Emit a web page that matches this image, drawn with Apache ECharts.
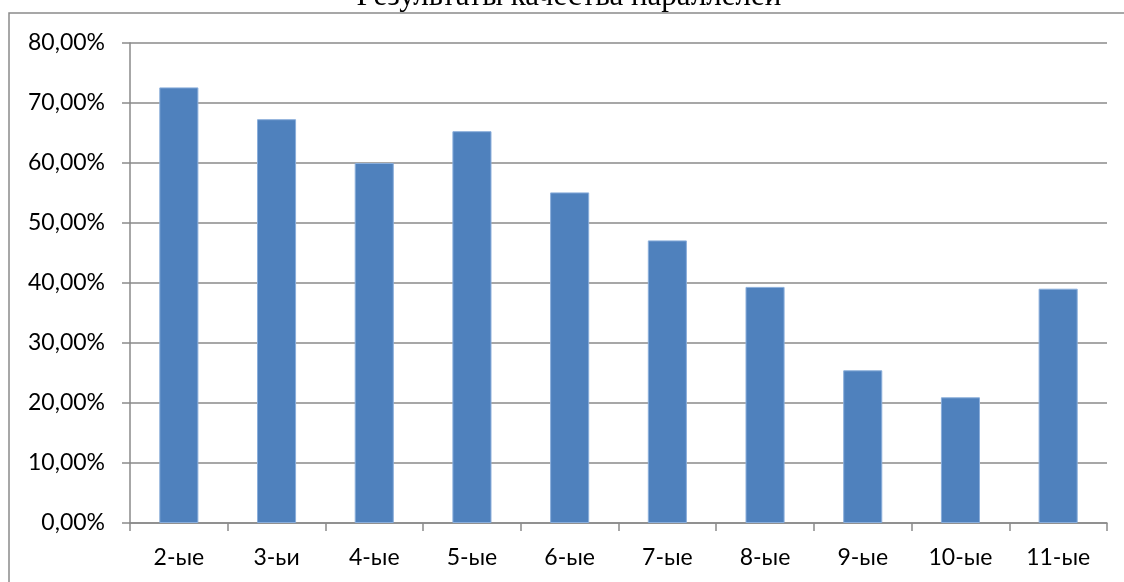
<!DOCTYPE html>
<html>
<head>
<meta charset="utf-8">
<script src="https://cdn.jsdelivr.net/npm/echarts@6/dist/echarts.min.js"></script>
<style>
html,body{margin:0;padding:0;background:#fff;}
#chart{width:1124px;height:582px;}
</style>
</head>
<body>
<div id="chart"></div>
<script>
const titleText = 'Результаты качества параллелей';
const categories = ['2-ые','3-ьи','4-ые','5-ые','6-ые','7-ые','8-ые','9-ые','10-ые','11-ые'];
const values = [72.6, 67.3, 60.0, 65.3, 55.1, 47.1, 39.35, 25.45, 20.95, 39.05];
const yTicks = {min: 0, max: 80, interval: 10};

const chart = echarts.init(document.getElementById('chart'), null, {renderer: 'canvas'});
const lineColor = '#8a8a8a';
const labelFont = {fontFamily: 'Lato', fontSize: 23, color: '#000'};

chart.setOption({
  animation: false,
  backgroundColor: '#fff',
  graphic: [{
    type: 'text',
    x: 569,
    y: -3,
    style: {
      text: titleText,
      font: 'normal 31px "Liberation Serif"',
      fill: '#000',
      textAlign: 'center',
      textVerticalAlign: 'middle'
    },
    silent: true,
    z: 1
  }, {
    type: 'rect',
    shape: {x: 9, y: 13, width: 1300, height: 800},
    style: {fill: 'none', stroke: lineColor, lineWidth: 1.5},
    silent: true,
    z: 2
  }],
  grid: {left: 130, right: 17, top: 43, bottom: 59, containLabel: false},
  xAxis: {
    type: 'category',
    data: categories,
    axisLine: {show: true, lineStyle: {color: lineColor, width: 1.5}},
    axisTick: {show: true, length: 8, alignWithLabel: false, lineStyle: {color: lineColor, width: 1.5}},
    axisLabel: Object.assign({margin: 23}, labelFont),
    splitLine: {show: false}
  },
  yAxis: {
    type: 'value',
    min: yTicks.min,
    max: yTicks.max,
    interval: yTicks.interval,
    axisLine: {show: true, lineStyle: {color: lineColor, width: 1.5}},
    axisTick: {show: true, length: 8, lineStyle: {color: lineColor, width: 1.5}},
    axisLabel: Object.assign({
      margin: 25,
      formatter: v => v.toFixed(2).replace('.', ',') + '%'
    }, labelFont),
    splitLine: {show: true, lineStyle: {color: lineColor, width: 1.5}}
  },
  series: [{
    type: 'bar',
    data: values,
    barWidth: '40%',
    itemStyle: {color: '#4F81BD', borderColor: '#8aaedb', borderWidth: 1},
    z: 3
  }]
});
</script>
</body>
</html>
